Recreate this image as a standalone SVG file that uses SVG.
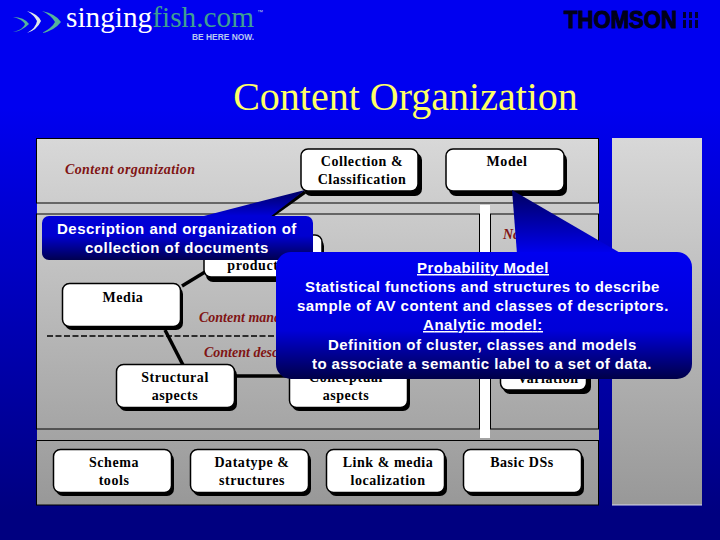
<svg xmlns="http://www.w3.org/2000/svg" width="720" height="540" viewBox="0 0 720 540">
<style>
.panel{fill:url(#gray);stroke:#000;stroke-width:1}
.box{fill:#fff;stroke:#000;stroke-width:1.5}
.shadow{fill:#000}
.n{font:bold 14px "Liberation Serif",serif;letter-spacing:.55px;text-anchor:middle;fill:#000}
.lab{font:italic bold 14px "Liberation Serif",serif;fill:#801414}
.c{font:bold 15px "Liberation Sans",sans-serif;letter-spacing:.7px;text-anchor:middle;fill:#fff}
.u{text-decoration:underline}
.cn{stroke:#000;stroke-width:3.5;fill:none}
</style>
<defs>
<linearGradient id="bg" gradientUnits="userSpaceOnUse" x1="0" y1="0" x2="0" y2="540">
<stop offset="0" stop-color="#0000f0"/><stop offset=".2" stop-color="#0000f0"/><stop offset=".95" stop-color="#000080"/><stop offset="1" stop-color="#000080"/>
</linearGradient>
<linearGradient id="gray" gradientUnits="userSpaceOnUse" x1="0" y1="138" x2="0" y2="505">
<stop offset="0" stop-color="#d8d8d8"/><stop offset="1" stop-color="#989898"/>
</linearGradient>
<linearGradient id="c1" gradientUnits="userSpaceOnUse" x1="0" y1="216" x2="0" y2="260">
<stop offset="0" stop-color="#0000d8"/><stop offset=".45" stop-color="#0000d0"/><stop offset="1" stop-color="#000050"/>
</linearGradient>
<linearGradient id="c2" gradientUnits="userSpaceOnUse" x1="0" y1="252" x2="0" y2="379">
<stop offset="0" stop-color="#0000f0"/><stop offset=".62" stop-color="#0000d8"/><stop offset="1" stop-color="#000048"/>
</linearGradient>
<linearGradient id="t1" gradientUnits="userSpaceOnUse" x1="0" y1="190" x2="0" y2="216">
<stop offset="0" stop-color="#000060"/><stop offset="1" stop-color="#0000d8"/>
</linearGradient>
<linearGradient id="t2" gradientUnits="userSpaceOnUse" x1="0" y1="190" x2="0" y2="254">
<stop offset="0" stop-color="#000060"/><stop offset="1" stop-color="#0000f0"/>
</linearGradient>
</defs>
<rect width="720" height="540" fill="url(#bg)"/>

<g id="logo">
<path d="M13 17Q24 17 29 24Q22 31 13 32Q24 29 25 24Q22 19 13 17Z" fill="#55b39a"/>
<path d="M27 11Q38 14 41 21Q37 30 27 33Q36 28 37 21Q34 15 27 11Z" fill="#dfe9e8"/>
<path d="M42 11Q56 14 61 22Q54 31 42 33Q52 28 55 22Q51 15 42 11Z" fill="#55b39a"/>
<text x="66" y="27" font-family="Liberation Serif,serif" font-size="30" textLength="188" lengthAdjust="spacingAndGlyphs"><tspan fill="#fff">singing</tspan><tspan fill="#3f9f92">fish.com</tspan></text>
<text x="257" y="14" font-family="Liberation Sans,sans-serif" font-size="6" fill="#b8c8e0">™</text>
<text x="192" y="40" font-family="Liberation Sans,sans-serif" font-size="9.5" font-weight="bold" fill="#b8c8f0" textLength="62" lengthAdjust="spacingAndGlyphs">BE HERE NOW.</text>
</g>
<g id="thomson">
<text x="564" y="28" font-family="Liberation Sans,sans-serif" font-size="23" font-weight="bold" fill="#000018" stroke="#000018" stroke-width="1" textLength="113" lengthAdjust="spacingAndGlyphs">THOMSON</text>
<g fill="#000030"><rect x="683" y="12" width="3" height="6"/><rect x="689" y="12" width="3" height="6"/><rect x="695" y="12" width="3" height="6"/><rect x="683" y="20" width="3" height="8"/><rect x="689" y="20" width="3" height="8"/><rect x="695" y="20" width="3" height="8"/></g>
</g>
<text id="title" x="405.500" y="110" font-family="Liberation Serif,serif" font-size="40" fill="#ffff66" text-anchor="middle">Content Organization</text>

<rect x="37" y="138" width="562" height="367" fill="url(#gray)"/>
<rect x="612" y="138" width="90" height="367" fill="url(#gray)"/>
<path d="M612 505H702" stroke="#d8d8f0" stroke-width="1"/>
<rect class="panel" x="36.500" y="138.500" width="562" height="64.500"/>
<rect class="panel" x="36.500" y="214" width="443" height="215"/>
<rect class="panel" x="490.500" y="214" width="108" height="215"/>
<rect class="panel" x="36.500" y="440.500" width="562" height="64.500"/>
<rect x="480" y="205" width="10" height="233" fill="#fff"/>

<text class="lab" x="65" y="174" textLength="130">Content organization</text>
<text class="lab" x="199" y="322">Content management</text>
<text class="lab" x="204" y="357">Content description</text>
<text class="lab" x="503" y="239">Navigation</text>
<path d="M47 336H480" stroke="#000" stroke-width="1.500" stroke-dasharray="6 2.500" fill="none"/>

<g id="connectors">
<path class="cn" d="M305 192L270 217"/>
<path class="cn" d="M205 272L182 286"/>
<path class="cn" d="M165 330L183 365"/>
<path class="cn" d="M235 376H290"/>
</g>

<g id="collection"><rect class="shadow" x="304" y="153" width="118" height="43" rx="7"/><rect class="box" x="301" y="149" width="117" height="42" rx="7"/><text class="n" x="362" y="166">Collection &amp;</text><text class="n" x="362" y="184">Classification</text></g>
<g id="model"><rect class="shadow" x="449" y="153" width="118" height="43" rx="7"/><rect class="box" x="446" y="149" width="118" height="42" rx="7"/><text class="n" x="507" y="166">Model</text></g>
<g id="production"><rect class="shadow" x="206" y="239" width="118" height="43" rx="7"/><rect class="box" x="204" y="235" width="118" height="42" rx="7"/><text class="n" x="263" y="270">production</text></g>
<g id="media"><rect class="shadow" x="65" y="287" width="118" height="43" rx="7"/><rect class="box" x="62.500" y="283.500" width="118" height="43" rx="7"/><text class="n" x="123" y="302">Media</text></g>
<g id="structural"><rect class="shadow" x="119" y="368" width="118" height="43" rx="7"/><rect class="box" x="116.500" y="364.500" width="118" height="43" rx="7"/><text class="n" x="175" y="382">Structural</text><text class="n" x="175" y="400">aspects</text></g>
<g id="conceptual"><rect class="shadow" x="292" y="368" width="118" height="43" rx="7"/><rect class="box" x="289.500" y="364.500" width="118" height="43" rx="7"/><text class="n" x="346" y="382">Conceptual</text><text class="n" x="346" y="400">aspects</text></g>
<g id="variation"><rect class="shadow" x="503" y="355" width="88" height="39" rx="7"/><rect class="box" x="500.500" y="351" width="86" height="39" rx="7"/><text class="n" x="548" y="383">Variation</text></g>
<g id="schema"><rect class="shadow" x="56" y="453" width="118" height="43" rx="7"/><rect class="box" x="53.500" y="449.500" width="118" height="43" rx="7"/><text class="n" x="114" y="467">Schema</text><text class="n" x="114" y="485">tools</text></g>
<g id="datatype"><rect class="shadow" x="193" y="453" width="118" height="43" rx="7"/><rect class="box" x="190.500" y="449.500" width="118" height="43" rx="7"/><text class="n" x="252" y="467">Datatype &amp;</text><text class="n" x="252" y="485">structures</text></g>
<g id="link"><rect class="shadow" x="329" y="453" width="118" height="43" rx="7"/><rect class="box" x="326.500" y="449.500" width="118" height="43" rx="7"/><text class="n" x="388" y="467">Link &amp; media</text><text class="n" x="388" y="485">localization</text></g>
<g id="basic"><rect class="shadow" x="466" y="453" width="118" height="43" rx="7"/><rect class="box" x="463.500" y="449.500" width="118" height="43" rx="7"/><text class="n" x="522" y="467">Basic DSs</text></g>

<g id="callout-description">
<path d="M200 217L305 190L270 217Z" fill="url(#t1)"/>
<rect x="42" y="216" width="271" height="44" rx="7" fill="url(#c1)"/>
<text class="c" x="177" y="234" textLength="240">Description and organization of</text>
<text class="c" x="177" y="253" textLength="184">collection of documents</text>
</g>
<g id="callout-model">
<path d="M512 190L517 254H622Z" fill="url(#t2)"/>
<rect x="276" y="252" width="416" height="127" rx="15" fill="url(#c2)"/>
<text class="c u" x="483" y="273" textLength="132">Probability Model</text>
<text class="c" x="482.500" y="292" textLength="355">Statistical functions and structures to describe</text>
<text class="c" x="483" y="311" textLength="372">sample of AV content and classes of descriptors.</text>
<text class="c u" x="483" y="330" textLength="120">Analytic model:</text>
<text class="c" x="482.500" y="350" textLength="309">Definition of cluster, classes and models</text>
<text class="c" x="482" y="369" textLength="340">to associate a semantic label to a set of data.</text>
</g>
</svg>
